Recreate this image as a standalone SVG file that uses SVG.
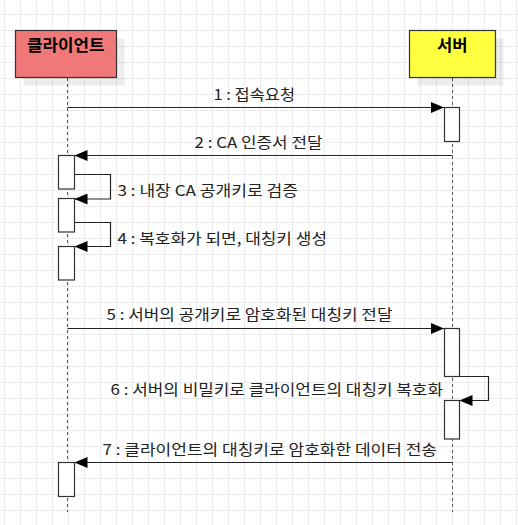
<svg xmlns="http://www.w3.org/2000/svg" width="518" height="525" viewBox="0 0 518 525">
<style>
.lbl{font-family:"Noto Sans CJK KR","Noto Sans",sans-serif;font-size:15px;fill:#222}
.hdr{font-family:"Noto Sans CJK KR","Noto Sans",sans-serif;font-size:16px;font-weight:bold;fill:#000}
.life{stroke:#555;stroke-width:1;stroke-dasharray:3 3;fill:none}
.act{fill:#fff;stroke:#333;stroke-width:1.2}
.msg{fill:none;stroke:#222;stroke-width:1.2}
.shadow{fill:#000;fill-opacity:0.07}
</style>
<defs>
<pattern id="grid" patternUnits="userSpaceOnUse" x="4" y="14" width="16" height="16">
<path d="M0.5 0V16M0 0.5H16" stroke="#ebebeb" stroke-width="1" fill="none"/>
</pattern>
<marker id="ah" markerUnits="userSpaceOnUse" markerWidth="13" markerHeight="11" refX="13" refY="5.5" orient="auto">
<path d="M0,0 L13,5.5 L0,11 z" fill="#000"/>
</marker>
</defs>
<rect width="518" height="525" fill="#fff"/>
<rect width="518" height="525" fill="url(#grid)"/>

<g id="lifelines">
<line class="life" x1="67.5" y1="78" x2="67.5" y2="512"/>
<line class="life" x1="452.5" y1="78" x2="452.5" y2="512"/>
</g>

<g id="client">
<rect class="shadow" x="23.5" y="38.5" width="101" height="47"/>
<rect x="15.5" y="30.5" width="101" height="47" fill="#f07878" stroke="#333" stroke-width="1.2"/>
<text class="hdr" x="27" y="51" textLength="77.5" lengthAdjust="spacingAndGlyphs">클라이언트</text>
</g>
<g id="server">
<rect class="shadow" x="417.5" y="38.5" width="86" height="47"/>
<rect x="409.5" y="30.5" width="86" height="47" fill="#ffff40" stroke="#333" stroke-width="1.2"/>
<text class="hdr" x="437" y="51" textLength="30.5" lengthAdjust="spacingAndGlyphs">서버</text>
</g>

<g id="activations">
<rect class="act" x="444.5" y="107.5" width="15" height="34"/>
<rect class="act" x="58.5" y="155.5" width="16" height="33.5"/>
<rect class="act" x="58.5" y="198.5" width="16" height="33.5"/>
<rect class="act" x="58.5" y="246.5" width="16" height="33.5"/>
<rect class="act" x="444.5" y="328.5" width="15" height="48"/>
<rect class="act" x="444.5" y="400.5" width="15" height="38.5"/>
<rect class="act" x="58.5" y="462.5" width="16" height="34"/>
</g>

<g id="connectors">
<path class="msg" d="M67.5,107.5 H444" marker-end="url(#ah)"/>
<path class="msg" d="M452.5,155.5 H74.5" marker-end="url(#ah)"/>
<path class="msg" d="M74.5,174.5 H110.5 V199 H74.5" marker-end="url(#ah)"/>
<path class="msg" d="M74.5,222.5 H110.5 V246.5 H74.5" marker-end="url(#ah)"/>
<path class="msg" d="M67.5,328.5 H444" marker-end="url(#ah)"/>
<path class="msg" d="M459.5,376.5 H488.5 V400.5 H459.5" marker-end="url(#ah)"/>
<path class="msg" d="M452.5,462.5 H74.5" marker-end="url(#ah)"/>
</g>

<g id="labels">
<text class="lbl" x="213.5" y="100" textLength="81.5" lengthAdjust="spacingAndGlyphs">1 : 접속요청</text>
<text class="lbl" x="194.5" y="147.5" textLength="128" lengthAdjust="spacingAndGlyphs">2 : CA 인증서 전달</text>
<text class="lbl" x="117.5" y="196" textLength="180.5" lengthAdjust="spacingAndGlyphs">3 : 내장 CA 공개키로 검증</text>
<text class="lbl" x="117.5" y="244" textLength="209.5" lengthAdjust="spacingAndGlyphs">4 : 복호화가 되면, 대칭키 생성</text>
<text class="lbl" x="106.5" y="320" textLength="286" lengthAdjust="spacingAndGlyphs">5 : 서버의 공개키로 암호화된 대칭키 전달</text>
<text class="lbl" x="110.5" y="395" textLength="332.5" lengthAdjust="spacingAndGlyphs">6 : 서버의 비밀키로 클라이언트의 대칭키 복호화</text>
<text class="lbl" x="102.5" y="455" textLength="334.5" lengthAdjust="spacingAndGlyphs">7 : 클라이언트의 대칭키로 암호화한 데이터 전송</text>
</g>
</svg>
